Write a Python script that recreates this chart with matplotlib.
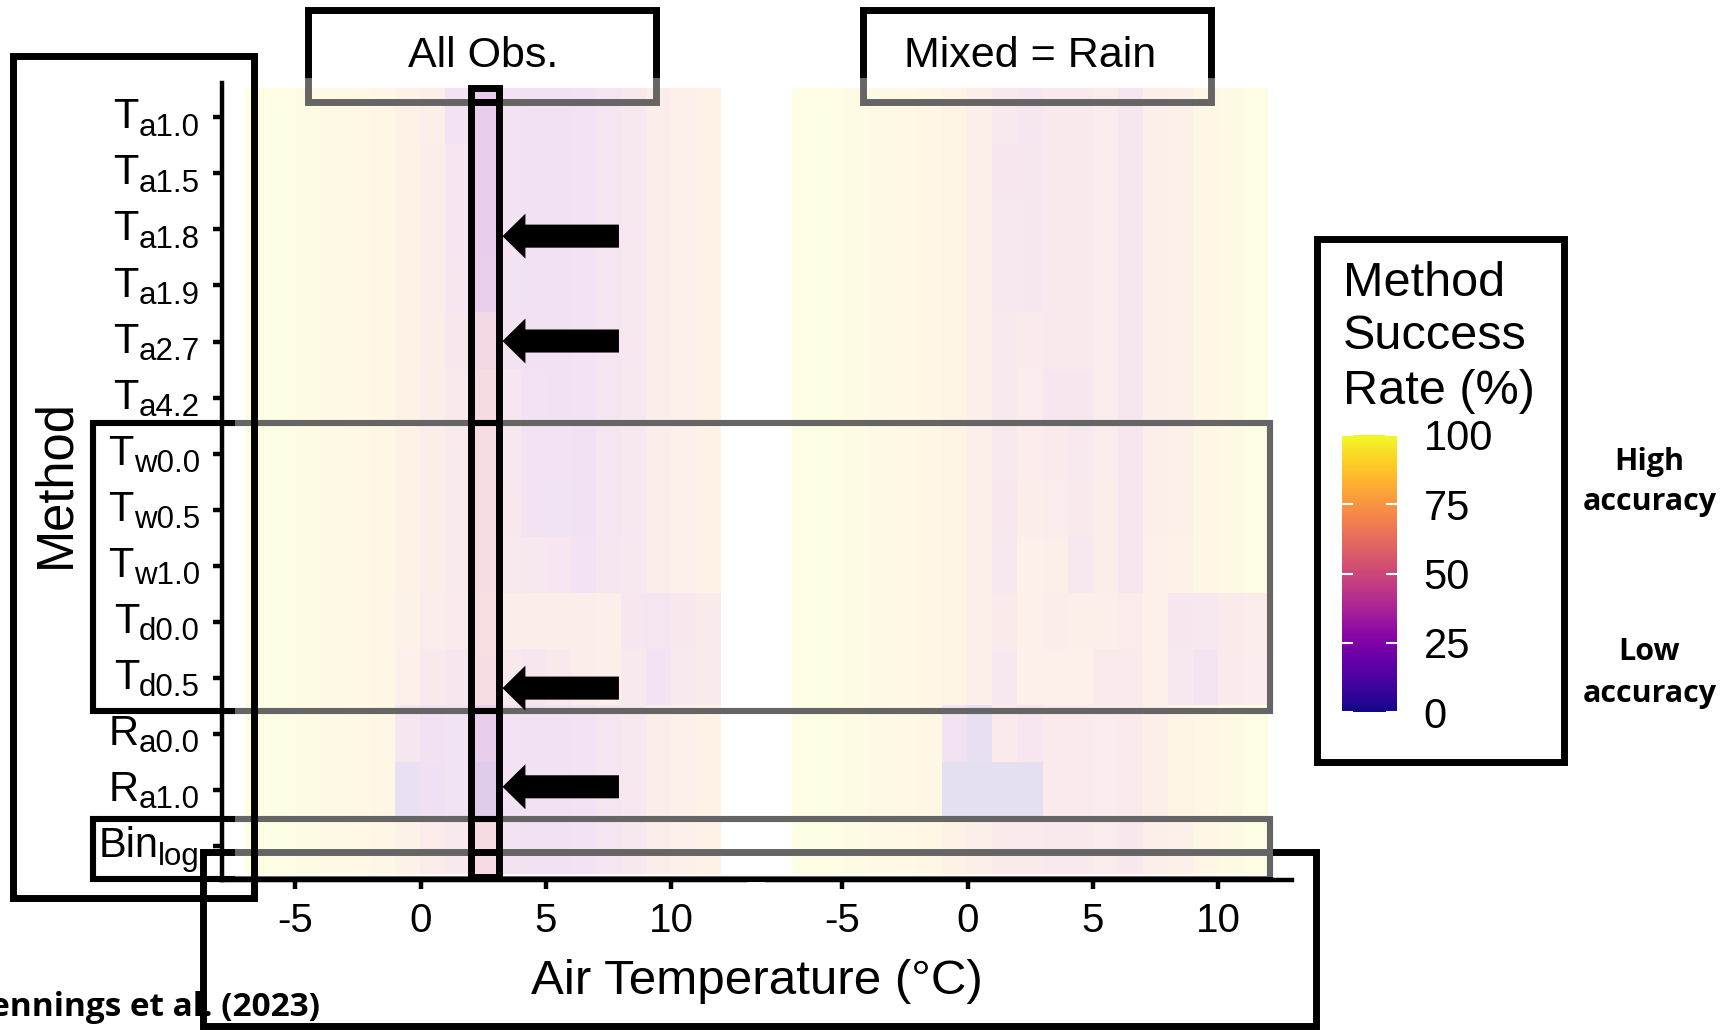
import matplotlib
matplotlib.use('Agg')  # no display
import matplotlib.pyplot as plt
import numpy as np
from matplotlib.colors import Normalize
from matplotlib.cm import ScalarMappable
from matplotlib.patches import Rectangle, FancyArrowPatch
from matplotlib.transforms import Affine2D, blended_transform_factory

plt.rcParams['font.family'] = ['Liberation Sans', 'DejaVu Sans']
plt.rcParams['axes.unicode_minus'] = False

# air temperature bin edges (deg C), one cell per degree
temp_edges = [-7, -6, -5, -4, -3, -2, -1, 0, 1, 2, 3, 4, 5, 6, 7, 8, 9, 10, 11, 12]
x_ticks = [-5, 0, 5, 10]

method_base = ['T', 'T', 'T', 'T', 'T', 'T', 'T', 'T', 'T', 'T', 'T', 'R', 'R', 'Bin']
method_sub = ['a1.0', 'a1.5', 'a1.8', 'a1.9', 'a2.7', 'a4.2', 'w0.0', 'w0.5', 'w1.0',
              'd0.0', 'd0.5', 'a0.0', 'a1.0', 'log']
panel_titles = ['All Obs.', 'Mixed = Rain']

# method success rate (%), rows = methods, columns = temperature bins
success_all = [
    [98, 98, 96, 92, 90, 86, 78, 66, 35, 30, 33, 30, 30, 32, 42, 48, 64, 70, 78],
    [98, 98, 96, 92, 90, 86, 78, 64, 46, 30, 33, 30, 30, 32, 42, 48, 64, 70, 78],
    [98, 98, 96, 92, 90, 86, 78, 64, 46, 30, 33, 30, 30, 32, 42, 48, 64, 70, 78],
    [98, 98, 96, 92, 90, 86, 78, 64, 46, 31, 34, 30, 30, 32, 42, 48, 64, 70, 78],
    [98, 98, 96, 92, 90, 86, 78, 64, 50, 46, 36, 30, 30, 32, 42, 48, 64, 70, 78],
    [98, 98, 96, 92, 90, 86, 78, 64, 54, 54, 46, 32, 30, 32, 42, 48, 64, 70, 78],
    [98, 98, 96, 92, 90, 86, 78, 64, 55, 56, 48, 33, 32, 30, 42, 48, 64, 70, 78],
    [98, 98, 96, 92, 90, 86, 78, 64, 55, 56, 50, 36, 34, 30, 42, 48, 64, 70, 78],
    [98, 98, 96, 92, 90, 86, 78, 64, 55, 56, 52, 48, 46, 32, 44, 48, 64, 70, 78],
    [98, 98, 96, 92, 90, 86, 76, 60, 56, 58, 64, 64, 64, 64, 66, 45, 40, 50, 55],
    [98, 98, 96, 92, 90, 86, 70, 54, 46, 56, 54, 46, 54, 64, 66, 52, 32, 52, 55],
    [98, 98, 96, 92, 90, 86, 44, 30, 34, 30, 32, 30, 30, 32, 42, 48, 64, 70, 78],
    [98, 98, 96, 92, 90, 86, 15, 28, 34, 18, 32, 30, 30, 32, 42, 48, 64, 70, 78],
    [98, 98, 96, 92, 90, 86, 76, 62, 52, 54, 36, 30, 30, 32, 42, 48, 64, 70, 78],
]
success_mixed = [
    [98, 98, 95, 92, 91, 88, 80, 68, 52, 44, 54, 54, 58, 44, 68, 72, 86, 93, 98],
    [98, 98, 95, 92, 91, 88, 80, 68, 46, 44, 54, 54, 58, 44, 68, 72, 86, 93, 98],
    [98, 98, 95, 92, 91, 88, 80, 68, 48, 44, 54, 54, 58, 44, 68, 72, 86, 93, 98],
    [98, 98, 95, 92, 91, 88, 80, 68, 48, 44, 54, 54, 58, 44, 68, 72, 86, 93, 98],
    [98, 98, 95, 92, 91, 88, 80, 68, 52, 56, 54, 54, 58, 44, 68, 72, 86, 93, 98],
    [98, 98, 95, 92, 91, 88, 80, 68, 52, 58, 46, 46, 58, 44, 68, 72, 86, 93, 98],
    [98, 98, 95, 92, 91, 88, 80, 68, 52, 62, 56, 52, 58, 46, 68, 72, 86, 93, 98],
    [98, 98, 95, 92, 91, 88, 80, 68, 50, 64, 58, 54, 60, 46, 68, 72, 86, 93, 98],
    [98, 98, 95, 92, 91, 88, 80, 68, 48, 70, 68, 48, 64, 46, 70, 74, 86, 94, 98],
    [98, 98, 95, 92, 91, 88, 80, 66, 56, 70, 64, 68, 68, 62, 72, 46, 48, 56, 60],
    [98, 98, 95, 92, 91, 88, 80, 66, 48, 70, 70, 70, 56, 56, 72, 48, 38, 56, 58],
    [98, 98, 95, 92, 91, 88, 36, 8, 56, 46, 56, 56, 58, 56, 68, 80, 86, 94, 98],
    [98, 98, 95, 92, 91, 88, 6, 6, 6, 6, 56, 56, 58, 56, 68, 80, 86, 94, 98],
    [98, 98, 95, 92, 91, 88, 78, 66, 56, 56, 54, 54, 58, 50, 68, 72, 86, 93, 98],
]
cbar_ticks = [0, 25, 50, 75, 100]

# rows pointed at by the arrows, and a small nudge (in rows) for each
arrow_rows = [2, 4, 10, 12]
arrow_nudge = [0.12, -0.01, 0.18, -0.06]

W, H = 1722, 1030
RW, RH = 1568, 938  # layout measured on a 1568x938 copy of the figure

fig = plt.figure(figsize=(W / 100, H / 100), dpi=100)
# reference pixel coords (y down) -> display pixels
ref = Affine2D().scale(W / RW, -H / RH).translate(0, H)


def box(x0, y0, x1, y1):
    return [x0 / RW, 1 - y1 / RH, (x1 - x0) / RW, (y1 - y0) / RH]


n_rows = len(method_base)
ax1 = fig.add_axes(box(201.7, 75.9, 678.3, 801.8))
ax2 = fig.add_axes(box(699.7, 75.9, 1176.3, 801.8))

for ax, data, title in zip([ax1, ax2], [success_all, success_mixed], panel_titles):
    ax.imshow(np.array(data), cmap='plasma', vmin=0, vmax=100, alpha=0.2,
              extent=(temp_edges[0], temp_edges[-1], n_rows - 0.5, -0.5),
              aspect='auto', interpolation='nearest')
    ax.set_xlim(-7.95, 12.95)
    ax.set_ylim(n_rows - 0.39, -0.605)
    ax.set_xticks(x_ticks)
    ax.tick_params(axis='x', length=6.3, width=3.2, labelsize=29, pad=9)
    for s in ['top', 'right']:
        ax.spines[s].set_visible(False)
    ax.spines['bottom'].set_linewidth(3.2)
    ax.spines['left'].set_linewidth(3.2)
    ax.annotate(title, xy=(0.5, 1), xycoords='axes fraction', xytext=(0, 11.6),
                textcoords='offset points', ha='center', va='baseline', fontsize=31)

ax1.set_yticks(range(n_rows))
ax1.set_yticklabels([])
ax1.tick_params(axis='y', length=6.3, width=3.2)
ax2.set_yticks([])
ax2.spines['left'].set_visible(False)

# method labels with subscripts, right aligned next to the ticks
for i, (base, sub) in enumerate(zip(method_base, method_sub)):
    s = ax1.annotate(sub, xy=(0, i), xycoords=('axes fraction', 'data'), xytext=(-15.5, -13.2),
                     textcoords='offset points', ha='right', va='baseline', fontsize=22.5)
    ax1.annotate(base, xy=(0, 0), xycoords=s, xytext=(0, 10.3), textcoords='offset points',
                 ha='right', va='baseline', fontsize=30)

fig.text(689, 905.5, 'Air Temperature (°C)', transform=ref, ha='center', va='baseline', fontsize=35.5)
fig.text(73.5, 440, 'Method', transform=ref, rotation=90, ha='right', va='center', fontsize=36.5)

# colour bar legend
cax = fig.add_axes(box(1221.6, 396, 1272.4, 648.7))
cb = fig.colorbar(ScalarMappable(norm=Normalize(0, 100), cmap='plasma'), cax=cax, ticks=cbar_ticks)
cb.outline.set_visible(False)
cax.tick_params(length=0, labelsize=30, pad=19)
tb = blended_transform_factory(cax.transAxes, cax.transData)
for v in cbar_ticks:
    cax.plot([0, 0.18], [v, v], transform=tb, color='white', lw=1.5, clip_on=False)
    cax.plot([0.82, 1], [v, v], transform=tb, color='white', lw=1.5, clip_on=False)

for line, y in zip(['Method', 'Success', 'Rate (%)'], [269.5, 318, 368]):
    fig.text(1223, y, line, transform=ref, ha='left', va='baseline', fontsize=35)

bold = dict(family=['Open Sans', 'DejaVu Sans'], weight='bold', fontsize=22,
            transform=ref, ha='center', va='baseline')
for txt, y in zip(['High', 'accuracy', 'Low', 'accuracy'], [428, 464, 601, 639.3]):
    fig.text(1502, y, txt, **bold)
fig.text(291.5, 925.6, 'Jennings et al. (2023)', transform=ref, ha='right', va='baseline',
         family=['Open Sans', 'DejaVu Sans'], weight='bold', fontsize=24)


def frame(x0, y0, x1, y1, z, lw=5):
    r = Rectangle((x0, y0), x1 - x0, y1 - y0, transform=ref, fill=False, ec='black',
                  lw=lw, joinstyle='miter', zorder=z)
    fig.add_artist(r)


# boxes that sit under the white wash (they end up grey)
frame(84.7, 385.2, 1156.6, 647.7, 5, 4.4)
frame(84.7, 745.8, 1156.6, 800.3, 5, 4.4)
frame(280, 9.4, 597, 92.6, 5)
frame(785.4, 9.4, 1102.5, 92.6, 5)
frame(184.7, 775.5, 1198.3, 934.5, 5)

# white wash over the panels, leaving the 2-3 degC column of the first panel clear
for x0, x1 in [(214, 428.6), (454.2, 1159)]:
    fig.add_artist(Rectangle((x0, 71), x1 - x0, 798.5 - 71, transform=ref, fc='white',
                             ec='none', alpha=0.4, zorder=6))

# boxes on top
frame(11.6, 51, 231, 818, 7)
frame(428.6, 79.7, 454.2, 799, 7)
frame(1199, 217.5, 1424, 694, 7)

for r, dy in zip(arrow_rows, arrow_nudge):
    arr = FancyArrowPatch((7.92, r + dy), (3.27, r + dy), transform=ax1.transData,
                          arrowstyle='simple,head_length=16.5,head_width=32.4,tail_width=16.6',
                          mutation_scale=1, shrinkA=0, shrinkB=0, fc='black', ec='none', zorder=7)
    fig.add_artist(arr)

fig.savefig('out.png', dpi=100)
plt.close(fig)
